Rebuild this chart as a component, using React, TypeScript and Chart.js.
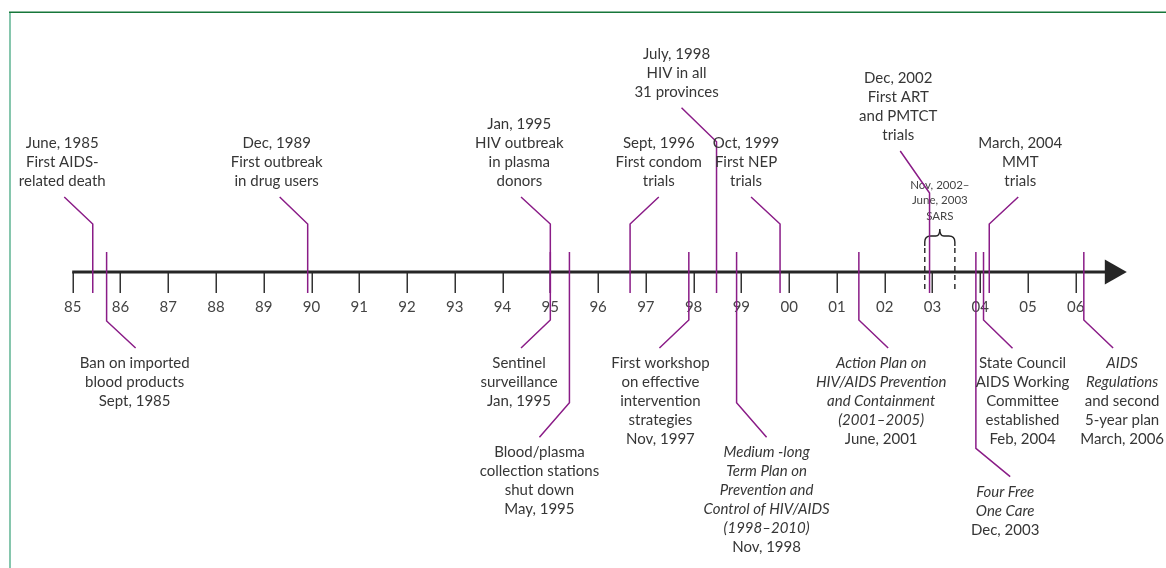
import React, { useEffect, useRef } from "react";
import { Chart, registerables } from "chart.js";

Chart.register(...registerables);

// ---------- data ----------
const YEAR_TICKS = [1985, 1986, 1987, 1988, 1989, 1990, 1991, 1992, 1993, 1994, 1995, 1996, 1997, 1998, 1999, 2000, 2001, 2002, 2003, 2004, 2005, 2006];
const TICK_LABELS = ["85", "86", "87", "88", "89", "90", "91", "92", "93", "94", "95", "96", "97", "98", "99", "00", "01", "02", "03", "04", "05", "06"];
const AXIS_END = 2007.07;

const EVENT_DATES = [1985.42, 1985.71, 1989.92, 1995.0, 1995.0, 1995.4, 1996.67, 1997.9, 1998.48, 1998.9, 1999.81, 2001.46, 2002.94, 2003.91, 2004.07, 2004.19, 2006.17];
const EVENT_SIDES = ["above", "below", "above", "above", "below", "below", "above", "below", "above", "below", "above", "below", "above", "below", "below", "above", "below"];
const EVENT_TEXTS = [
  ["June, 1985", "First AIDS-", "related death"],
  ["Ban on imported", "blood products", "Sept, 1985"],
  ["Dec, 1989", "First outbreak", "in drug users"],
  ["Jan, 1995", "HIV outbreak", "in plasma", "donors"],
  ["Sentinel", "surveillance", "Jan, 1995"],
  ["Blood/plasma", "collection stations", "shut down", "May, 1995"],
  ["Sept, 1996", "First condom", "trials"],
  ["First workshop", "on effective", "intervention", "strategies", "Nov, 1997"],
  ["July, 1998", "HIV in all", "31 provinces"],
  ["Medium -long", "Term Plan on", "Prevention and", "Control of HIV/AIDS", "(1998–2010)", "Nov, 1998"],
  ["Oct, 1999", "First NEP", "trials"],
  ["Action Plan on", "HIV/AIDS Prevention", "and Containment", "(2001–2005)", "June, 2001"],
  ["Dec, 2002", "First ART", "and PMTCT", "trials"],
  ["Four Free", "One Care", "Dec, 2003"],
  ["State Council", "AIDS Working", "Committee", "established", "Feb, 2004"],
  ["March, 2004", "MMT", "trials"],
  ["AIDS", "Regulations", "and second", "5-year plan", "March, 2006"],
];
const EVENT_ITALIC_LINES = [0, 0, 0, 0, 0, 0, 0, 0, 0, 5, 0, 4, 0, 2, 0, 0, 2];

const SARS_START = 2002.84;
const SARS_END = 2003.47;
const SARS_TEXT = ["Nov, 2002–", "June, 2003", "SARS"];

// ---------- layout (pixel offsets, styling) ----------
// elbow: px distance of elbow from axis (positive = above); dx/dy: diagonal leader; tdx: label shift
const EVENT_LAYOUT = [
  { elbow: 48, dx: -28.5, dy: 27, tdx: -2 },
  { elbow: -49, dx: 29, dy: 27, tdx: -1 },
  { elbow: 48, dx: -28, dy: 27, tdx: -3 },
  { elbow: 48, dx: -29.3, dy: 27, tdx: -1.7 },
  { elbow: -48, dx: -29.3, dy: 28, tdx: -2 },
  { elbow: -130.7, dx: -30, dy: 34.6, tdx: 0 },
  { elbow: 48, dx: 28.7, dy: 27, tdx: 0 },
  { elbow: -48, dx: -29.4, dy: 28, tdx: 1 },
  { elbow: 130.3, dx: -35, dy: 34, tdx: -5 },
  { elbow: -130.7, dx: 30, dy: 34.6, tdx: 0 },
  { elbow: 48, dx: -29, dy: 27, tdx: -5 },
  { elbow: -48, dx: 29.3, dy: 28, tdx: -7 },
  { elbow: 79, dx: -29.3, dy: 42, tdx: -2 },
  { elbow: -176.3, dx: 34.3, dy: 28.4, tdx: -5 },
  { elbow: -48, dx: 29, dy: 28.3, tdx: 10 },
  { elbow: 48, dx: 29, dy: 27, tdx: 2 },
  { elbow: -48, dx: 29.3, dy: 28, tdx: 9 },
];

const PURPLE = "#8a1c87";
const AXIS_COLOR = "#262626";
const TEXT_COLOR = "#363636";
const FONT_FAMILY = "Lato, 'Open Sans', sans-serif";
const FONT_SIZE = 15;
const LINE_H = 19;

const PX_PER_YEAR = 47.762;
const X_MIN = 1985 - 72.7 / PX_PER_YEAR;
const X_MAX = X_MIN + 1166 / PX_PER_YEAR;

const timelinePlugin = {
  id: "timeline",
  afterDraw(chart: any) {
    const ctx: CanvasRenderingContext2D = chart.ctx;
    const xs = chart.scales.x;
    const ys = chart.scales.y;
    const X = (v: number) => xs.getPixelForValue(v);
    const Y = (v: number) => ys.getPixelForValue(v);
    const axisY = Y(0);
    ctx.save();

    // frame
    ctx.lineWidth = 2;
    ctx.strokeStyle = "#86c6ad";
    ctx.beginPath();
    ctx.moveTo(10, 12);
    ctx.lineTo(10, 568);
    ctx.stroke();
    ctx.lineWidth = 1.5;
    ctx.strokeStyle = "#17773a";
    ctx.beginPath();
    ctx.moveTo(9, 12.25);
    ctx.lineTo(1166, 12.25);
    ctx.stroke();

    // ticks
    ctx.strokeStyle = "#333";
    ctx.lineWidth = 1.5;
    YEAR_TICKS.forEach((yr) => {
      const x = Math.round(X(yr)) + 0.25;
      ctx.beginPath();
      ctx.moveTo(x, axisY);
      ctx.lineTo(x, axisY + 21);
      ctx.stroke();
    });

    // tick labels
    ctx.fillStyle = "#444";
    ctx.font = `15px ${FONT_FAMILY}`;
    ctx.textAlign = "center";
    ctx.textBaseline = "middle";
    YEAR_TICKS.forEach((yr, i) => {
      ctx.fillText(TICK_LABELS[i], X(yr), axisY + 35);
    });

    // SARS brace and dashed lines
    const sx1 = X(SARS_START);
    const sx2 = X(SARS_END);
    const sxc = (sx1 + sx2) / 2;
    const yTip = axisY - 43;
    const yMid = axisY - 36;
    const yEnd = axisY - 26;
    ctx.strokeStyle = "#222";
    ctx.lineWidth = 1.4;
    ctx.beginPath();
    ctx.moveTo(sx1, yEnd);
    ctx.lineTo(sx1, yMid + 6);
    ctx.quadraticCurveTo(sx1, yMid, sx1 + 6, yMid);
    ctx.lineTo(sxc - 4, yMid);
    ctx.quadraticCurveTo(sxc, yMid, sxc, yTip);
    ctx.quadraticCurveTo(sxc, yMid, sxc + 4, yMid);
    ctx.lineTo(sx2 - 6, yMid);
    ctx.quadraticCurveTo(sx2, yMid, sx2, yMid + 6);
    ctx.lineTo(sx2, yEnd);
    ctx.stroke();
    ctx.setLineDash([5, 4]);
    [sx1, sx2].forEach((x) => {
      ctx.beginPath();
      ctx.moveTo(x, yEnd + 2);
      ctx.lineTo(x, axisY + 21);
      ctx.stroke();
    });
    ctx.setLineDash([]);
    ctx.fillStyle = "#444";
    ctx.font = `11.5px ${FONT_FAMILY}`;
    SARS_TEXT.forEach((t, i) => {
      ctx.fillText(t, sxc, axisY - 87 + i * 15.7);
    });

    // axis line + arrow
    ctx.strokeStyle = AXIS_COLOR;
    ctx.lineWidth = 3;
    const xEnd = X(AXIS_END);
    ctx.beginPath();
    ctx.moveTo(X(YEAR_TICKS[0]) - 0.5, axisY);
    ctx.lineTo(xEnd - 20, axisY);
    ctx.stroke();
    ctx.fillStyle = AXIS_COLOR;
    ctx.beginPath();
    ctx.moveTo(xEnd, axisY);
    ctx.lineTo(xEnd - 22, axisY - 12.5);
    ctx.lineTo(xEnd - 22, axisY + 12.5);
    ctx.closePath();
    ctx.fill();

    // events
    EVENT_DATES.forEach((d, i) => {
      const L = EVENT_LAYOUT[i];
      const above = EVENT_SIDES[i] === "above";
      const x = X(d);
      const yStart = above ? axisY + 21 : axisY - 20;
      const yElbow = Y(L.elbow);
      const yDiag = above ? yElbow - L.dy : yElbow + L.dy;
      const xDiag = x + L.dx;
      ctx.strokeStyle = PURPLE;
      ctx.lineWidth = 1.5;
      ctx.beginPath();
      ctx.moveTo(x, yStart);
      ctx.lineTo(x, yElbow);
      ctx.lineTo(xDiag, yDiag);
      ctx.stroke();

      const lines = EVENT_TEXTS[i];
      const n = lines.length;
      const cx = xDiag + L.tdx;
      const firstY = above ? yDiag - 16 - (n - 1) * LINE_H : yDiag + 15;
      ctx.fillStyle = TEXT_COLOR;
      ctx.textAlign = "center";
      ctx.textBaseline = "middle";
      lines.forEach((t, k) => {
        const italic = k < EVENT_ITALIC_LINES[i];
        ctx.font = `${italic ? "italic " : ""}${FONT_SIZE}px ${FONT_FAMILY}`;
        ctx.fillText(t, cx, firstY + k * LINE_H);
      });
    });

    ctx.restore();
  },
};

export default function App() {
  const ref = useRef<HTMLCanvasElement | null>(null);
  useEffect(() => {
    document.body.style.margin = "0";
    const canvas = ref.current;
    if (!canvas) return;
    const chart = new Chart(canvas, {
      type: "scatter",
      data: { datasets: [] },
      options: {
        animation: false,
        responsive: false,
        maintainAspectRatio: false,
        devicePixelRatio: 1,
        events: [],
        layout: { padding: 0 },
        plugins: {
          legend: { display: false },
          tooltip: { enabled: false },
        },
        scales: {
          x: { type: "linear", display: false, min: X_MIN, max: X_MAX },
          y: { type: "linear", display: false, min: -296, max: 272 },
        },
      },
      plugins: [timelinePlugin],
    });
    return () => chart.destroy();
  }, []);
  return (
    <div style={{ width: 1166, height: 568, background: "#fff" }}>
      <canvas ref={ref} width={1166} height={568} style={{ display: "block", width: 1166, height: 568 }} />
    </div>
  );
}
